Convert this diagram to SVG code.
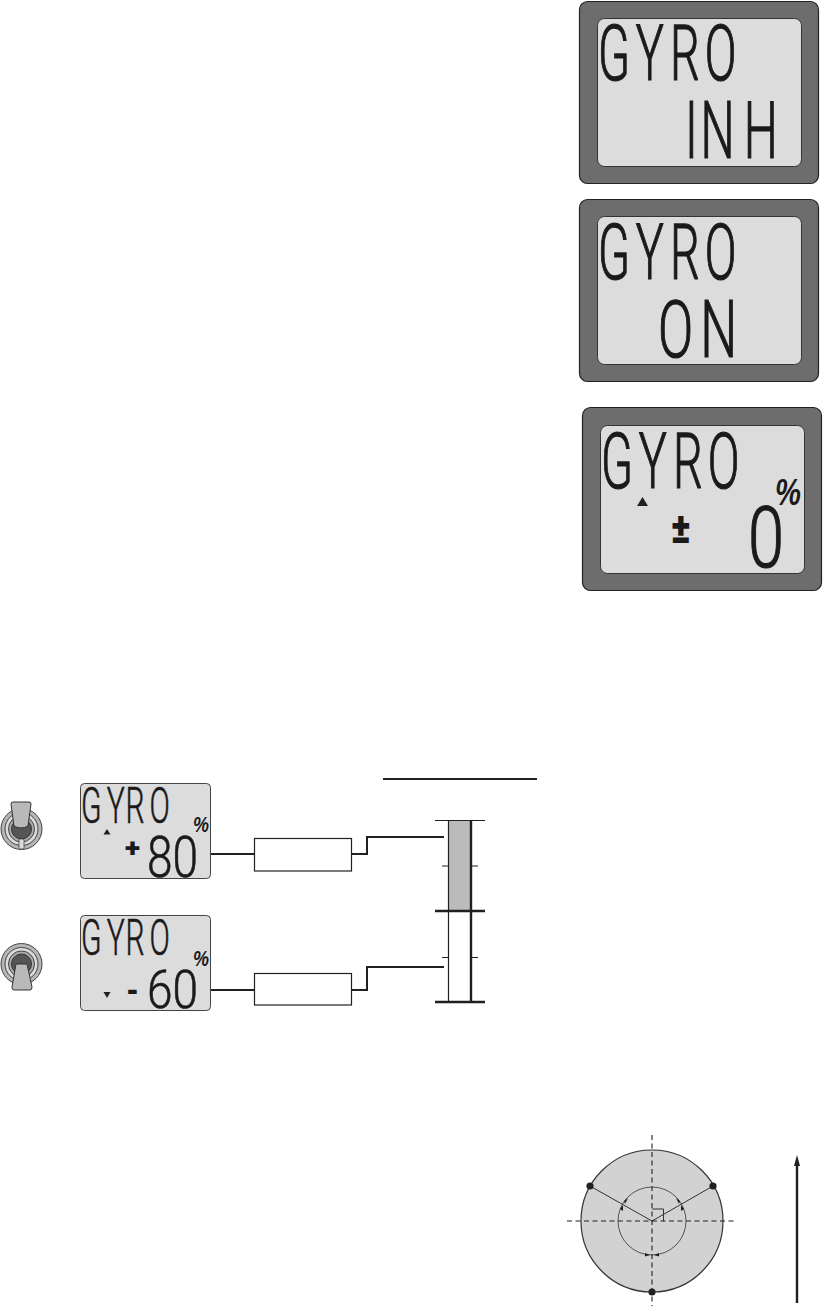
<svg xmlns="http://www.w3.org/2000/svg" width="823" height="1306" viewBox="0 0 823 1306">
<style>
.bezel{fill:#6d6d6d;stroke:#222;stroke-width:1.2}
.lcd{fill:#dcdcdc;stroke:#333;stroke-width:1}
.mini{fill:#dcdcdc;stroke:#444;stroke-width:1}
text{font-family:"Roboto","Liberation Sans",sans-serif;fill:#1a1a1a;font-weight:300;stroke:#1a1a1a;stroke-width:1.2}
.small{stroke-width:.6}
.sym{font-weight:900;stroke:none}
.pct{font-family:"Liberation Sans",sans-serif;font-weight:700;font-style:italic;stroke:none}
.wire{fill:none;stroke:#231f20;stroke-width:2}
.box{fill:#fff;stroke:#231f20;stroke-width:1.2}
.thin{fill:none;stroke:#231f20;stroke-width:1.2}
.thick{fill:none;stroke:#231f20;stroke-width:2.4}
.dash{fill:none;stroke:#231f20;stroke-width:1.1;stroke-dasharray:5 3.5}
.ray{fill:none;stroke:#333;stroke-width:1}
.mark{fill:#231f20}
.ring{fill:#b5b5b5;stroke:#444;stroke-width:1}
.lever{fill:#b9b9b9;stroke:#333;stroke-width:1}
</style>
<g id="display-inh">
<rect class="bezel" x="579.5" y="1.5" width="239" height="182" rx="8"/>
<rect class="lcd" x="597.5" y="18.5" width="204" height="148" rx="7"/>
<text transform="translate(598,80) scale(.6,1)" x="0 63 120 178" y="0" font-size="78">GYRO</text>
<text transform="translate(685,158) scale(.6,1)" x="0 26 98" y="0" font-size="80">INH</text>
</g>
<g id="display-on">
<rect class="bezel" x="579.5" y="199.5" width="239" height="182" rx="8"/>
<rect class="lcd" x="597.5" y="216.5" width="204" height="148" rx="7"/>
<text transform="translate(598,279) scale(.6,1)" x="0 63 120 178" y="0" font-size="78">GYRO</text>
<text transform="translate(658,357) scale(.65,1)" x="0 65" y="0" font-size="80">ON</text>
</g>
<g id="display-zero">
<rect class="bezel" x="582.5" y="407.5" width="239" height="183" rx="8"/>
<rect class="lcd" x="600.5" y="425.5" width="204" height="148" rx="7"/>
<text transform="translate(601,488) scale(.6,1)" x="0 63 120 178" y="0" font-size="78">GYRO</text>
<polygon class="mark" points="642.5,497 648,506 637,506"/>
<text class="sym" x="671" y="543" font-size="42" textLength="20" lengthAdjust="spacingAndGlyphs">±</text>
<text x="748" y="567" font-size="85" textLength="36" lengthAdjust="spacingAndGlyphs">0</text>
<text class="pct" x="775" y="505" font-size="37" textLength="26" lengthAdjust="spacingAndGlyphs">%</text>
</g>
<g id="switch-up">
<circle class="ring" cx="21.5" cy="829" r="20.5"/>
<circle cx="21.5" cy="829" r="16.5" fill="#dcdcdc" stroke="#444"/>
<circle cx="21.5" cy="829" r="13" fill="#aaa" stroke="#444"/>
<circle cx="21.5" cy="829" r="10" fill="#555" stroke="#333"/>
<rect x="19" y="839" width="5" height="10" rx="1.5" fill="#ddd" stroke="#444" stroke-width=".8"/>
<path class="lever" d="M13 802h16q2 0 2 2l-3 22q-7 4-14 0l-3-22q0-2 2-2z"/>
</g>
<g id="lcd-plus-80">
<rect class="mini" x="80.5" y="783.5" width="130" height="95" rx="4"/>
<text class="small" transform="translate(81,823) scale(.6,1)" x="0 43 74 114" y="0" font-size="50">GYRO</text>
<polygon class="mark" points="107,829 110.500,834.500 103.500,834.500"/>
<text class="sym" x="125" y="857" font-size="25" textLength="15" lengthAdjust="spacingAndGlyphs">+</text>
<text class="small" x="147" y="877" font-size="57" textLength="51" lengthAdjust="spacingAndGlyphs">80</text>
<text class="pct" x="193" y="832" font-size="22" textLength="16" lengthAdjust="spacingAndGlyphs">%</text>
</g>
<g id="switch-down">
<circle class="ring" cx="21.5" cy="964" r="20.5"/>
<circle cx="21.5" cy="964" r="16.5" fill="#dcdcdc" stroke="#444"/>
<circle cx="21.5" cy="964" r="13" fill="#aaa" stroke="#444"/>
<circle cx="21.5" cy="964" r="10" fill="#555" stroke="#333"/>
<path class="lever" d="M16 964h11l5 23q0 3-2 3H14q-2 0-2-3z"/>
</g>
<g id="lcd-minus-60">
<rect class="mini" x="80.500" y="915.500" width="130" height="95" rx="4"/>
<text class="small" transform="translate(81,955) scale(.6,1)" x="0 43 74 114" y="0" font-size="50">GYRO</text>
<polygon class="mark" points="107,998 103.500,992 110.500,992"/>
<text class="sym" x="126" y="1002" font-size="34" textLength="13" lengthAdjust="spacingAndGlyphs">-</text>
<text class="small" x="147" y="1008" font-size="53" textLength="51" lengthAdjust="spacingAndGlyphs">60</text>
<text class="pct" x="193" y="966" font-size="22" textLength="16" lengthAdjust="spacingAndGlyphs">%</text>
</g>
<g id="box-top"><rect class="box" x="254.500" y="838.500" width="97" height="32.500"/></g>
<g id="box-bottom"><rect class="box" x="254.500" y="973.500" width="97" height="31.500"/></g>
<g id="scale">
<rect x="449" y="820.500" width="22" height="90.500" fill="#bbb"/>
<path class="thin" d="M435 820.500H485M442 866H448M472 866H478M442 957.500H448M472 957.500H478M448.500 820.500V1002"/>
<path class="thick" d="M471 820.500V1002M435 911H485M435 1002H485"/>
</g>
<g id="title-rule"><path class="wire" d="M383 779H537"/></g>
<g id="connectors">
<path class="wire" d="M211 854H254"/>
<path class="wire" d="M211 990H254"/>
<path class="wire" d="M352 854H367V837H444"/>
<path class="wire" d="M352 990H367V967H444"/>
</g>
<g id="dial">
<circle cx="652" cy="1221" r="71" fill="#d2d2d2" stroke="#333" stroke-width="1.2"/>
<circle cx="652" cy="1221" r="34" fill="none" stroke="#555" stroke-width="1"/>
<path class="ray" d="M590 1186L652 1221L713 1186"/>
<path class="ray" stroke-width="1.2" d="M652 1209H663.500V1221"/>
<path class="dash" d="M652 1135V1306M567 1221H737"/>
<circle class="mark" cx="590" cy="1186" r="3.600"/>
<circle class="mark" cx="713" cy="1186" r="3.600"/>
<circle class="mark" cx="652" cy="1292" r="3.600"/>
<g class="mark">
<polygon points="624,1201 628,1198 625,1204"/>
<polygon points="620,1209 623,1205 623,1211"/>
<polygon points="680,1201 676,1198 679,1204"/>
<polygon points="684,1209 681,1205 681,1211"/>
<polygon points="650,1255 645,1253 645,1256.500"/>
<polygon points="654,1255 659,1253 659,1256.500"/>
</g>
</g>
<g id="axis-arrow">
<path class="thick" d="M797 1164V1303"/>
<polygon class="mark" points="797,1155 800,1166 794,1166"/>
</g>
</svg>
